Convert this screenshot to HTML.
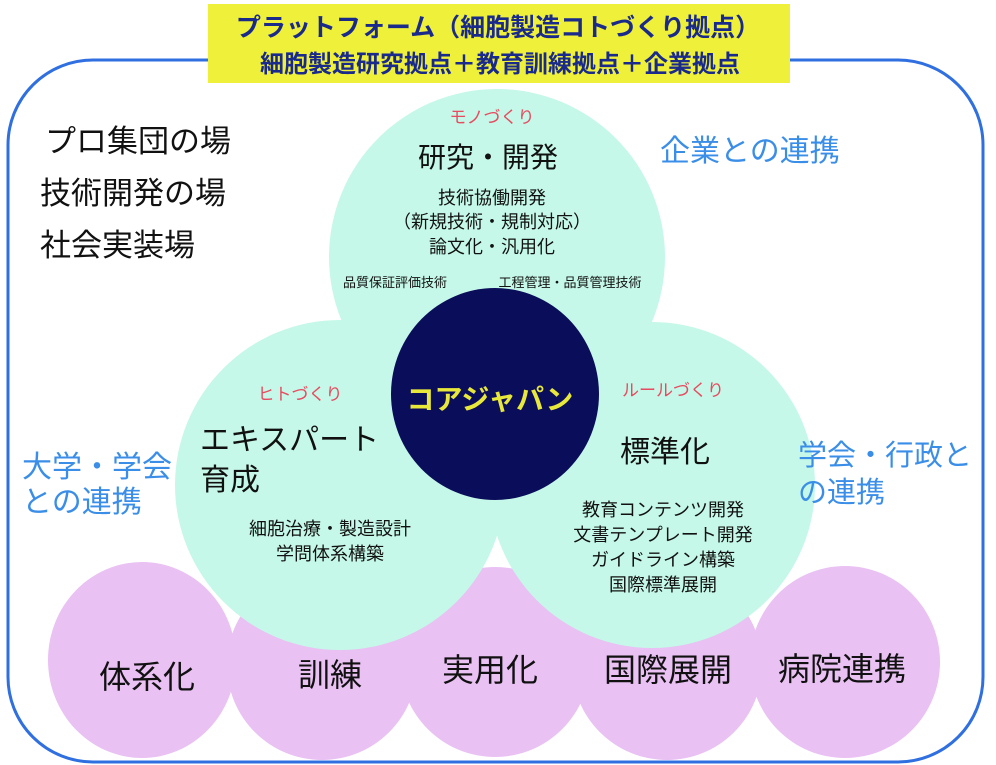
<!DOCTYPE html>
<html><head><meta charset="utf-8"><style>
html,body{margin:0;padding:0;background:#fff;}
svg{display:block;}
text{font-family:"Liberation Sans","Noto Sans CJK JP",sans-serif;}
</style></head><body>
<svg width="996" height="765" viewBox="0 0 996 765" xmlns="http://www.w3.org/2000/svg">
<rect x="8" y="60" width="975" height="702" rx="85" ry="85" fill="none" stroke="#2f6fe0" stroke-width="3"/>
<rect x="208" y="4" width="582" height="79" fill="#eef03a"/>
<text x="498" y="36" font-size="25" font-weight="bold" fill="#1a2a8a" text-anchor="middle">プラットフォーム（細胞製造コトづくり拠点）</text>
<text x="500" y="72" font-size="24" font-weight="bold" fill="#1a2a8a" text-anchor="middle">細胞製造研究拠点＋教育訓練拠点＋企業拠点</text>
<g fill="#e9c1f3">
<ellipse cx="142" cy="660" rx="94" ry="98"/>
<ellipse cx="322" cy="665" rx="95" ry="95"/>
<ellipse cx="495" cy="662" rx="95" ry="95"/>
<ellipse cx="667" cy="665" rx="95" ry="95"/>
<ellipse cx="845" cy="662" rx="95" ry="96"/>
</g>
<g fill="#c5f8e8">
<circle cx="497" cy="257" r="168"/>
<circle cx="340" cy="485" r="165"/>
<circle cx="652" cy="485" r="163"/>
</g>
<ellipse cx="495" cy="394" rx="104" ry="106" fill="#0a0d5a"/>
<g font-size="31" fill="#111">
<text x="45" y="152">プロ集団の場</text>
<text x="40" y="204">技術開発の場</text>
<text x="40" y="256">社会実装場</text>
</g>
<g font-size="30" fill="#3a8ee8">
<text x="660" y="161">企業との連携</text>
<text x="22" y="477">大学・学会</text>
<text x="22" y="512">との連携</text>
<text x="798" y="465" font-size="29">学会・行政と</text>
<text x="798" y="502" font-size="29">の連携</text>
</g>
<g fill="#e84a5f" font-size="17" text-anchor="middle">
<text x="492" y="123">モノづくり</text>
<text x="300" y="400">ヒトづくり</text>
<text x="673" y="396">ルールづくり</text>
</g>
<g fill="#111" text-anchor="middle">
<text x="488" y="167" font-size="28">研究・開発</text>
<text x="492" y="204" font-size="18">技術協働開発</text>
<text x="492" y="228" font-size="18">（新規技術・規制対応）</text>
<text x="492" y="253" font-size="18">論文化・汎用化</text>
<text x="395" y="287" font-size="13">品質保証評価技術</text>
<text x="570" y="287" font-size="13">工程管理・品質管理技術</text>
<text x="330" y="535" font-size="18">細胞治療・製造設計</text>
<text x="330" y="560" font-size="18">学問体系構築</text>
<text x="663" y="516" font-size="18">教育コンテンツ開発</text>
<text x="663" y="541" font-size="18">文書テンプレート開発</text>
<text x="663" y="566" font-size="18">ガイドライン構築</text>
<text x="663" y="591" font-size="18">国際標準展開</text>
<text x="665" y="462" font-size="30">標準化</text>
</g>
<g fill="#111" font-size="30">
<text x="200" y="450">エキスパート</text>
<text x="200" y="490">育成</text>
</g>
<text x="490" y="409" font-size="28" font-weight="bold" fill="#e8e83a" text-anchor="middle">コアジャパン</text>
<g fill="#111" font-size="32" text-anchor="middle">
<text x="147" y="688">体系化</text>
<text x="330" y="686">訓練</text>
<text x="490" y="681">実用化</text>
<text x="668" y="681">国際展開</text>
<text x="842" y="680">病院連携</text>
</g>
</svg>
</body></html>
